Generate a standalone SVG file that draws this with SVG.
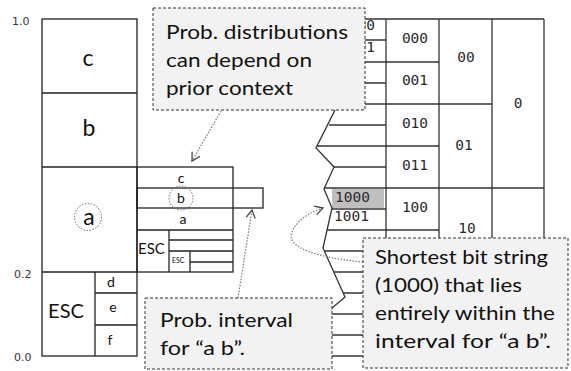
<svg xmlns="http://www.w3.org/2000/svg" width="571" height="371" viewBox="0 0 571 371">
<style>
.ln{stroke:#222;stroke-width:1.3;fill:none}
.gl{stroke:#333;stroke-width:1.3;fill:none}
.lbl{font-family:Lato,"Liberation Sans",sans-serif;fill:#111}
.ax{font-family:"DejaVu Sans",sans-serif;font-size:11px;fill:#333}
.num{font-family:"DejaVu Sans Mono",monospace;font-size:14.5px;fill:#2a2a2a}
.dc{stroke:#666;stroke-width:1;stroke-dasharray:1.5 1.5;fill:none}
.box{fill:#f2f2f2;stroke:#333;stroke-width:1;stroke-dasharray:3 2}
.ct{font-family:Lato,"Open Sans",sans-serif;font-size:20px;fill:#111}
.ar{stroke:#777;stroke-width:1.2;stroke-dasharray:1.5 1.5;fill:none}
</style>
<defs>
<marker id="ah" markerUnits="userSpaceOnUse" markerWidth="12" markerHeight="12" refX="9" refY="5" orient="auto">
<path d="M1,0.5 L9,5 L1,9.5" fill="none" stroke="#444" stroke-width="1.3"/>
</marker>
</defs>

<g id="axis">
<text class="ax" x="12" y="25">1.0</text>
<text class="ax" x="14" y="278">0.2</text>
<text class="ax" x="14" y="361">0.0</text>
</g>

<g id="left-column">
<rect class="ln" x="42" y="19" width="95" height="337"/>
<line class="ln" x1="42" y1="93" x2="137" y2="93"/>
<line class="ln" x1="42" y1="167" x2="137" y2="167"/>
<line class="ln" x1="42" y1="272" x2="137" y2="272"/>
<line class="ln" x1="95" y1="272" x2="95" y2="356"/>
<line class="ln" x1="95" y1="293" x2="137" y2="293"/>
<line class="ln" x1="95" y1="325" x2="137" y2="325"/>
<text class="lbl" x="88" y="66" font-size="23" text-anchor="middle">c</text>
<text class="lbl" x="89" y="136" font-size="23" text-anchor="middle">b</text>
<text class="lbl" x="89" y="225" font-size="23" text-anchor="middle">a</text>
<circle class="dc" cx="88" cy="217" r="13.5"/>
<text class="lbl" x="66" y="318" font-size="20" text-anchor="middle">ESC</text>
<text class="lbl" x="111" y="287" font-size="14" text-anchor="middle">d</text>
<text class="lbl" x="113" y="312" font-size="14" text-anchor="middle">e</text>
<text class="lbl" x="110" y="345" font-size="14" text-anchor="middle">f</text>
</g>

<g id="expansion">
<rect class="ln" x="137" y="167" width="96" height="105"/>
<rect class="ln" x="137" y="188" width="126" height="20"/>
<line class="ln" x1="137" y1="230" x2="233" y2="230"/>
<line class="ln" x1="169" y1="230" x2="169" y2="272"/>
<line class="ln" x1="169" y1="240" x2="233" y2="240"/>
<line class="ln" x1="169" y1="251" x2="233" y2="251"/>
<line class="ln" x1="190" y1="251" x2="190" y2="272"/>
<line class="ln" x1="190" y1="262" x2="233" y2="262"/>
<text class="lbl" x="181" y="183" font-size="14" text-anchor="middle">c</text>
<text class="lbl" x="181" y="203" font-size="14" text-anchor="middle">b</text>
<circle class="dc" cx="181" cy="198" r="12"/>
<text class="lbl" x="183" y="224" font-size="14" text-anchor="middle">a</text>
<text class="lbl" x="138" y="254" font-size="15">ESC</text>
<text class="lbl" x="172" y="263" font-size="7">ESC</text>
</g>

<g id="bit-grid">
<rect x="332" y="189" width="52" height="19" fill="#bfbfbf"/>
<polyline class="gl" points="345,90 316,148 334,167 324,189 332,208 323,248 345,297 332,308 326,330 326,356"/>
<line class="gl" x1="345" y1="19" x2="544" y2="19"/>
<line class="gl" x1="345" y1="40" x2="386" y2="40"/>
<line class="gl" x1="345" y1="62" x2="439" y2="62"/>
<line class="gl" x1="345" y1="83" x2="386" y2="83"/>
<line class="gl" x1="340" y1="104" x2="492" y2="104"/>
<line class="gl" x1="329" y1="125" x2="386" y2="125"/>
<line class="gl" x1="317" y1="146" x2="439" y2="146"/>
<line class="gl" x1="334" y1="167" x2="386" y2="167"/>
<line class="gl" x1="324" y1="188" x2="544" y2="188"/>
<line class="gl" x1="332" y1="209" x2="386" y2="209"/>
<line class="gl" x1="327" y1="230" x2="439" y2="230"/>
<line class="gl" x1="324" y1="251" x2="386" y2="251"/>
<line class="gl" x1="334" y1="272" x2="492" y2="272"/>
<line class="gl" x1="343" y1="293" x2="386" y2="293"/>
<line class="gl" x1="330" y1="314" x2="439" y2="314"/>
<line class="gl" x1="330" y1="335" x2="386" y2="335"/>
<line class="gl" x1="330" y1="356" x2="544" y2="356"/>
<line class="gl" x1="386" y1="19" x2="386" y2="356"/>
<line class="gl" x1="439" y1="19" x2="439" y2="356"/>
<line class="gl" x1="492" y1="19" x2="492" y2="356"/>
<line class="gl" x1="544" y1="19" x2="544" y2="356"/>
<text class="num" x="340" y="30">0000</text>
<text class="num" x="340" y="52">0001</text>
<text class="num" x="335" y="202">1000</text>
<text class="num" x="334" y="221">1001</text>
<text class="num" x="415" y="43" text-anchor="middle">000</text>
<text class="num" x="415" y="85" text-anchor="middle">001</text>
<text class="num" x="415" y="128" text-anchor="middle">010</text>
<text class="num" x="415" y="170" text-anchor="middle">011</text>
<text class="num" x="415" y="212" text-anchor="middle">100</text>
<text class="num" x="466" y="62" text-anchor="middle">00</text>
<text class="num" x="464" y="150" text-anchor="middle">01</text>
<text class="num" x="467" y="233" text-anchor="middle">10</text>
<text class="num" x="518" y="108" text-anchor="middle">0</text>
</g>

<g id="connectors">
<line class="ar" x1="221" y1="111" x2="192" y2="161" marker-end="url(#ah)"/>
<line class="ar" x1="238" y1="298" x2="252" y2="210" marker-end="url(#ah)"/>
<path class="ar" d="M363,262 C320,258 285,248 292,232 C297,220 310,212 323,208" marker-end="url(#ah)"/>
</g>

<g id="callout-context">
<rect class="box" x="153" y="8" width="212" height="102"/>
<text class="ct" x="166" y="39" textLength="182" lengthAdjust="spacingAndGlyphs">Prob. distributions</text>
<text class="ct" x="166" y="67" textLength="146" lengthAdjust="spacingAndGlyphs">can depend on</text>
<text class="ct" x="166" y="95" textLength="127" lengthAdjust="spacingAndGlyphs">prior context</text>
</g>

<g id="callout-interval">
<rect class="box" x="145" y="298" width="187" height="71"/>
<text class="ct" x="160" y="327" textLength="133" lengthAdjust="spacingAndGlyphs">Prob. interval</text>
<text class="ct" x="160" y="355" textLength="85" lengthAdjust="spacingAndGlyphs">for “a b”.</text>
</g>

<g id="callout-bitstring">
<rect class="box" x="363" y="238" width="205" height="130"/>
<text class="ct" x="375" y="264" textLength="173" lengthAdjust="spacingAndGlyphs">Shortest bit string</text>
<text class="ct" x="375" y="292" textLength="147" lengthAdjust="spacingAndGlyphs">(1000) that lies</text>
<text class="ct" x="375" y="320" textLength="180" lengthAdjust="spacingAndGlyphs">entirely within the</text>
<text class="ct" x="375" y="348" textLength="176" lengthAdjust="spacingAndGlyphs">interval for “a b”.</text>
</g>
</svg>
